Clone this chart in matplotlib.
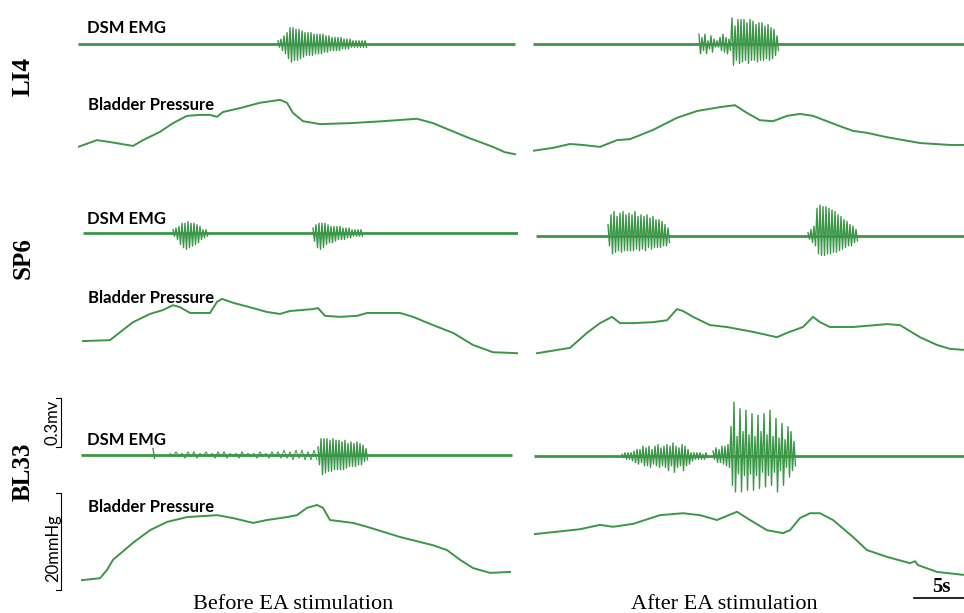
import matplotlib
matplotlib.use('Agg')
import matplotlib.pyplot as plt

# ── Figure geometry (pixels) ────────────────────────────────────────────────
W, H = 964, 613
GREEN = '#3b9648'
PX_PER_S = 10.0        # horizontal scale: 5 s = 50 px
PX_PER_MV = 163.0      # EMG scale: 0.3 mV = 49 px
PX_PER_MMHG = 4.85     # pressure scale: 20 mmHg = 97 px

# ── Bladder pressure traces (time s, pressure mmHg) ─────────────────────────
li4_pre_t = [0.0, 1.9, 3.2, 5.5, 6.5, 8.2, 9.5, 10.9, 12.2, 13.2, 13.9, 14.5, 16.2, 18.2,
             20.2, 20.9, 21.5, 22.5, 24.2, 27.2, 30.5, 33.9, 35.5, 38.9, 41.5, 42.7, 43.7]
li4_pre_p = [2.7, 4.1, 3.7, 2.9, 4.1, 5.8, 7.6, 9.1, 9.3, 9.3, 8.9, 9.9, 10.7, 11.8,
             12.4, 11.8, 9.7, 8.0, 7.4, 7.6, 8.0, 8.5, 7.6, 4.7, 2.7, 1.6, 1.2]
li4_post_t = [0.0, 2.0, 3.7, 5.0, 6.7, 8.4, 9.7, 12.0, 14.4, 16.4, 18.7, 20.2, 21.4, 22.7,
              24.0, 25.4, 26.7, 28.0, 30.4, 32.0, 33.4, 35.4, 38.7, 41.7, 43.0]
li4_post_p = [1.9, 2.5, 3.3, 3.1, 2.7, 4.1, 4.3, 6.2, 8.7, 10.1, 10.9, 11.3, 9.7, 8.2,
              8.0, 9.1, 9.5, 9.1, 7.2, 6.0, 5.6, 4.7, 3.5, 3.1, 3.1]
sp6_pre_t = [0.5, 3.2, 4.5, 5.5, 7.2, 8.5, 9.5, 10.2, 11.2, 13.2, 13.9, 14.4, 15.5, 17.5, 18.9,
             20.2, 21.2, 23.5, 24.0, 24.7, 26.2, 27.9, 28.9, 32.2, 33.5, 35.5, 37.5, 39.5, 41.5, 44.0]
sp6_pre_p = [3.9, 4.1, 6.2, 7.8, 9.5, 10.3, 11.3, 10.9, 9.7, 9.7, 12.0, 12.6, 11.8, 10.7, 9.9,
             9.5, 10.1, 10.5, 10.7, 9.1, 8.9, 9.1, 9.7, 9.7, 8.9, 7.2, 5.6, 3.1, 1.6, 1.4]
sp6_post_t = [0.4, 3.7, 5.4, 6.7, 7.9, 8.7, 10.0, 12.0, 13.4, 14.4, 15.0, 16.0, 17.7, 19.4,
              22.0, 24.4, 25.4, 27.0, 28.0, 28.7, 29.7, 32.0, 35.4, 36.7, 38.7, 40.4, 41.7, 43.0]
sp6_post_p = [1.4, 2.5, 5.6, 7.6, 8.9, 7.6, 7.6, 7.8, 8.2, 10.5, 10.1, 8.9, 7.2, 6.8,
              5.8, 4.7, 5.6, 6.8, 8.9, 7.8, 6.8, 6.8, 7.4, 7.2, 4.7, 3.1, 2.3, 2.1]
bl33_pre_t = [0.4, 2.2, 2.9, 3.5, 5.5, 7.2, 8.9, 10.9, 13.9, 15.5, 17.5, 18.9, 20.9, 21.9,
              22.9, 23.9, 24.5, 25.2, 27.5, 28.9, 32.2, 35.5, 36.9, 38.2, 39.5, 41.2, 43.2]
bl33_pre_p = [1.0, 1.4, 3.1, 5.2, 8.7, 11.3, 13.0, 14.0, 14.4, 13.8, 12.8, 13.4, 14.0, 14.4,
              15.9, 16.5, 15.9, 13.4, 12.8, 12.0, 9.9, 8.2, 7.2, 5.2, 3.5, 2.5, 2.7]
bl33_post_t = [0.2, 2.0, 4.7, 6.7, 8.0, 10.0, 12.7, 15.0, 16.7, 18.4, 20.4, 21.7, 23.4, 25.0,
               25.7, 26.7, 27.7, 28.7, 30.0, 32.0, 33.4, 35.4, 37.7, 38.2, 38.5, 40.4, 43.0]
bl33_post_p = [10.5, 10.9, 11.5, 12.4, 12.0, 12.6, 14.4, 14.8, 14.4, 13.4, 15.1, 13.4, 11.3, 10.7,
               11.3, 13.8, 14.8, 14.8, 13.4, 9.9, 7.2, 5.8, 4.5, 4.9, 4.1, 2.7, 2.1]

# ── DSM EMG bursts: onset (s), spike peaks above / below baseline (mV) ─────
li4_pre_b1_t0 = 20.0
li4_pre_b1_up = [0.02, 0.03, 0.05, 0.07, 0.10, 0.10, 0.09, 0.09, 0.08, 0.07, 0.07, 0.07, 0.06, 0.06, 0.06,
                 0.06, 0.05, 0.05, 0.04, 0.04, 0.04, 0.04, 0.03, 0.03, 0.03, 0.02, 0.02, 0.02, 0.02, 0.02]
li4_pre_b1_dn = [0.02, 0.04, 0.06, 0.09, 0.11, 0.10, 0.10, 0.09, 0.08, 0.07, 0.07, 0.07, 0.06, 0.06, 0.06,
                 0.05, 0.05, 0.04, 0.04, 0.04, 0.04, 0.03, 0.03, 0.03, 0.02, 0.02, 0.02, 0.02, 0.02, 0.02]

li4_post_b1_t0 = 16.6
li4_post_b1_up = [0.06, 0.04, 0.06, 0.02, 0.05, 0.03, 0.02, 0.04, 0.06, 0.04, 0.03,
                  0.16, 0.11, 0.15, 0.15, 0.15, 0.13, 0.15, 0.14, 0.12, 0.13, 0.13, 0.11, 0.12, 0.10, 0.09, 0.05]
li4_post_b1_dn = [0.06, 0.04, 0.06, 0.03, 0.05, 0.02, 0.02, 0.04, 0.05, 0.06, 0.04,
                  0.13, 0.10, 0.12, 0.11, 0.10, 0.12, 0.10, 0.10, 0.11, 0.10, 0.10, 0.09, 0.10, 0.09, 0.07, 0.04]

sp6_pre_b1_t0 = 9.5
sp6_pre_b1_up = [0.02, 0.03, 0.04, 0.06, 0.06, 0.07, 0.06, 0.06, 0.05, 0.04, 0.02, 0.02]
sp6_pre_b1_dn = [0.02, 0.04, 0.07, 0.09, 0.10, 0.09, 0.08, 0.07, 0.06, 0.04, 0.03, 0.02]
sp6_pre_b2_t0 = 23.5
sp6_pre_b2_up = [0.03, 0.05, 0.06, 0.06, 0.06, 0.05, 0.04, 0.04, 0.04, 0.04, 0.03, 0.03, 0.03, 0.02, 0.02, 0.02, 0.02]
sp6_pre_b2_dn = [0.05, 0.09, 0.10, 0.09, 0.07, 0.06, 0.06, 0.05, 0.04, 0.04, 0.04, 0.03, 0.03, 0.02, 0.02, 0.02, 0.02]

sp6_post_b1_t0 = 7.5
sp6_post_b1_up = [0.07, 0.13, 0.15, 0.12, 0.14, 0.15, 0.13, 0.14, 0.13, 0.15, 0.12, 0.13, 0.12, 0.13, 0.11,
                  0.12, 0.10, 0.10, 0.09, 0.07, 0.05]
sp6_post_b1_dn = [0.06, 0.11, 0.10, 0.09, 0.10, 0.09, 0.09, 0.09, 0.09, 0.08, 0.09, 0.08, 0.09, 0.07, 0.08,
                  0.07, 0.07, 0.07, 0.06, 0.06, 0.04]
sp6_post_b2_t0 = 27.5
sp6_post_b2_up = [0.02, 0.04, 0.06, 0.17, 0.19, 0.18, 0.18, 0.17, 0.16, 0.15, 0.13, 0.12, 0.10, 0.09, 0.07, 0.06, 0.04]
sp6_post_b2_dn = [0.02, 0.04, 0.06, 0.11, 0.12, 0.12, 0.11, 0.11, 0.10, 0.10, 0.09, 0.08, 0.07, 0.06, 0.06, 0.04, 0.03]

bl33_pre_b0_t0 = 7.5
bl33_pre_b0_up = [0.04]
bl33_pre_b0_dn = [0.02]
bl33_pre_noise_t0 = 9.2
bl33_pre_noise_up = [0.01, 0.02, 0.01, 0.02, 0.02, 0.01, 0.02, 0.01, 0.02, 0.02, 0.01, 0.01, 0.02,
                     0.01, 0.01, 0.02, 0.01, 0.02, 0.02, 0.03, 0.02, 0.03, 0.03, 0.02, 0.03]
bl33_pre_noise_dn = [0.01, 0.01, 0.02, 0.01, 0.02, 0.01, 0.01, 0.02, 0.01, 0.02, 0.01, 0.02, 0.01,
                     0.01, 0.02, 0.01, 0.02, 0.01, 0.02, 0.02, 0.03, 0.02, 0.03, 0.03, 0.03]
bl33_pre_b1_t0 = 24.0
bl33_pre_b1_up = [0.05, 0.10, 0.10, 0.10, 0.09, 0.10, 0.09, 0.09, 0.08, 0.09, 0.07, 0.08, 0.07, 0.08, 0.07, 0.06, 0.04]
bl33_pre_b1_dn = [0.06, 0.12, 0.11, 0.10, 0.10, 0.09, 0.09, 0.09, 0.09, 0.08, 0.07, 0.07, 0.07, 0.06, 0.06, 0.04, 0.03]

bl33_post_b1_t0 = 8.9
bl33_post_b1_up = [0.01, 0.02, 0.02, 0.02, 0.03, 0.04, 0.04, 0.06, 0.05, 0.06, 0.04, 0.06, 0.07, 0.05, 0.06,
                   0.07, 0.06, 0.08, 0.06, 0.05, 0.07, 0.06, 0.04, 0.02, 0.02, 0.02, 0.02, 0.01, 0.02]
bl33_post_b1_dn = [0.01, 0.02, 0.02, 0.03, 0.04, 0.05, 0.04, 0.06, 0.06, 0.07, 0.05, 0.06, 0.07, 0.06, 0.07,
                   0.09, 0.06, 0.10, 0.07, 0.06, 0.09, 0.06, 0.05, 0.03, 0.02, 0.02, 0.02, 0.02, 0.01]
bl33_post_b2_t0 = 18.0
bl33_post_b2_up = [0.03, 0.05, 0.04, 0.06, 0.06, 0.07, 0.18, 0.33, 0.12, 0.29, 0.15, 0.28, 0.13, 0.26,
                   0.12, 0.25, 0.15, 0.26, 0.13, 0.28, 0.12, 0.23, 0.11, 0.20, 0.10, 0.18, 0.15, 0.09]
bl33_post_b2_dn = [0.02, 0.04, 0.04, 0.05, 0.06, 0.07, 0.18, 0.22, 0.11, 0.22, 0.12, 0.21, 0.11, 0.21,
                   0.12, 0.20, 0.10, 0.19, 0.12, 0.18, 0.10, 0.22, 0.09, 0.18, 0.07, 0.13, 0.09, 0.06]

rows = ['LI4', 'SP6', 'BL33']
col_titles = ['Before EA stimulation', 'After EA stimulation']

# per panel: (EMG span, EMG bursts, pressure t, pressure p)
panels = {
    ('LI4', 0): ((0.0, 43.7), [(li4_pre_b1_t0, 0.3, li4_pre_b1_up, li4_pre_b1_dn)], li4_pre_t, li4_pre_p),
    ('LI4', 1): ((0.0, 43.1), [(li4_post_b1_t0, 0.3, li4_post_b1_up, li4_post_b1_dn)], li4_post_t, li4_post_p),
    ('SP6', 0): ((0.5, 44.0), [(sp6_pre_b1_t0, 0.3, sp6_pre_b1_up, sp6_pre_b1_dn),
                               (sp6_pre_b2_t0, 0.3, sp6_pre_b2_up, sp6_pre_b2_dn)], sp6_pre_t, sp6_pre_p),
    ('SP6', 1): ((0.3, 43.1), [(sp6_post_b1_t0, 0.3, sp6_post_b1_up, sp6_post_b1_dn),
                               (sp6_post_b2_t0, 0.3, sp6_post_b2_up, sp6_post_b2_dn)], sp6_post_t, sp6_post_p),
    ('BL33', 0): ((0.3, 43.4), [(bl33_pre_b0_t0, 0.3, bl33_pre_b0_up, bl33_pre_b0_dn),
                                (bl33_pre_noise_t0, 0.6, bl33_pre_noise_up, bl33_pre_noise_dn),
                                (bl33_pre_b1_t0, 0.3, bl33_pre_b1_up, bl33_pre_b1_dn)], bl33_pre_t, bl33_pre_p),
    ('BL33', 1): ((0.1, 43.1), [(bl33_post_b1_t0, 0.3, bl33_post_b1_up, bl33_post_b1_dn),
                                (bl33_post_b2_t0, 0.3, bl33_post_b2_up, bl33_post_b2_dn)], bl33_post_t, bl33_post_p),
}

# ── Layout (pixels from top-left) ───────────────────────────────────────────
COL_X0 = [78, 533]
COL_W = [440, 431]
EMG_BASE = {'LI4': (44, 44), 'SP6': (233, 236), 'BL33': (455, 456)}
P_REF = {'LI4': 160, 'SP6': 360, 'BL33': 585}
EMG_LIM = 0.4
P_LIM = 20.0

SANS_C = ['Lato', 'DejaVu Sans']
SERIF = ['Liberation Serif', 'DejaVu Serif']

fig = plt.figure(figsize=(W / 100, H / 100), dpi=100)


def px_axes(left, top, width, height):
    ax = fig.add_axes([left / W, 1 - (top + height) / H, width / W, height / H])
    ax.set_axis_off()
    ax.patch.set_alpha(0)
    return ax


def fig_text(x, y, s, **kw):
    fig.text(x / W, 1 - y / H, s, **kw)


axes = {}
for r in rows:
    for c in range(2):
        span, bursts, pt, pp = panels[(r, c)]
        tmax = COL_W[c] / PX_PER_S

        # EMG channel
        emg_h = 2 * EMG_LIM * PX_PER_MV
        ax_e = px_axes(COL_X0[c], EMG_BASE[r][c] - emg_h / 2, COL_W[c], emg_h)
        ax_e.set_xlim(0, tmax)
        ax_e.set_ylim(-EMG_LIM, EMG_LIM)
        ax_e.plot(span, [0, 0], color=GREEN, lw=2.0, solid_capstyle='butt')
        for t0, dt, up, dn in bursts:
            xs, ys = [], []
            for i, (u, d) in enumerate(zip(up, dn)):
                xs += [t0 + i * dt, t0 + (i + 0.5) * dt]
                ys += [u, -d]
            ax_e.plot(xs, ys, color=GREEN, lw=1.0 if dt < 0.5 else 0.7)

        # bladder pressure channel
        p_h = P_LIM * PX_PER_MMHG
        ax_p = px_axes(COL_X0[c], P_REF[r] - p_h, COL_W[c], p_h)
        ax_p.set_xlim(0, tmax)
        ax_p.set_ylim(0, P_LIM)
        ax_p.plot(pt, pp, color=GREEN, lw=1.4)
        axes[(r, c)] = (ax_e, ax_p)

# ── Channel labels ─────────────────────────────────────────────────────────
label_y = {'LI4': (33, 110), 'SP6': (224, 303), 'BL33': (445, 512)}
row_y = {'LI4': 76, 'SP6': 258, 'BL33': 472}
for r in rows:
    fig_text(87, label_y[r][0], 'DSM EMG', family=SANS_C, fontweight='bold', fontsize=12,
             ha='left', va='baseline')
    fig_text(88, label_y[r][1], 'Bladder Pressure', family=SANS_C, fontweight='bold', fontsize=12,
             ha='left', va='baseline')
    fig_text(23, row_y[r], r, family=SERIF, fontweight='bold', fontsize=18, rotation=90,
             ha='center', va='center')

# ── Scale bars ─────────────────────────────────────────────────────────────
ax_e, ax_p = axes[('BL33', 0)]
bar_t = -1.7
tick = 0.5
ax_e.plot([bar_t - tick, bar_t, bar_t, bar_t - tick], [0.05, 0.05, 0.35, 0.35],
          color='black', lw=0.8, clip_on=False)
ax_p.plot([bar_t - tick, bar_t, bar_t, bar_t - tick], [-1.0, -1.0, 19.0, 19.0],
          color='black', lw=0.8, clip_on=False)
fig_text(53, 422, '0.3mv', family=SANS_C, fontsize=12, rotation=90, ha='center', va='center')
fig_text(53, 548, '20mmHg', family=SANS_C, fontsize=12, rotation=90, ha='center', va='center')

ax_p2 = axes[('BL33', 1)][1]
t_end = COL_W[1] / PX_PER_S
ax_p2.plot([t_end - 5.0, t_end], [-2.7, -2.7], color='black', lw=1.2, clip_on=False)
fig_text(941, 592, '5s', family=SERIF, fontweight='bold', fontsize=15, ha='center', va='baseline')

# ── Column captions ────────────────────────────────────────────────────────
fig_text(293, 609, col_titles[0], family=SERIF, fontsize=16, ha='center', va='baseline')
fig_text(724, 609, col_titles[1], family=SERIF, fontsize=16, ha='center', va='baseline')

fig.savefig('out.png', dpi=100, facecolor='white')
